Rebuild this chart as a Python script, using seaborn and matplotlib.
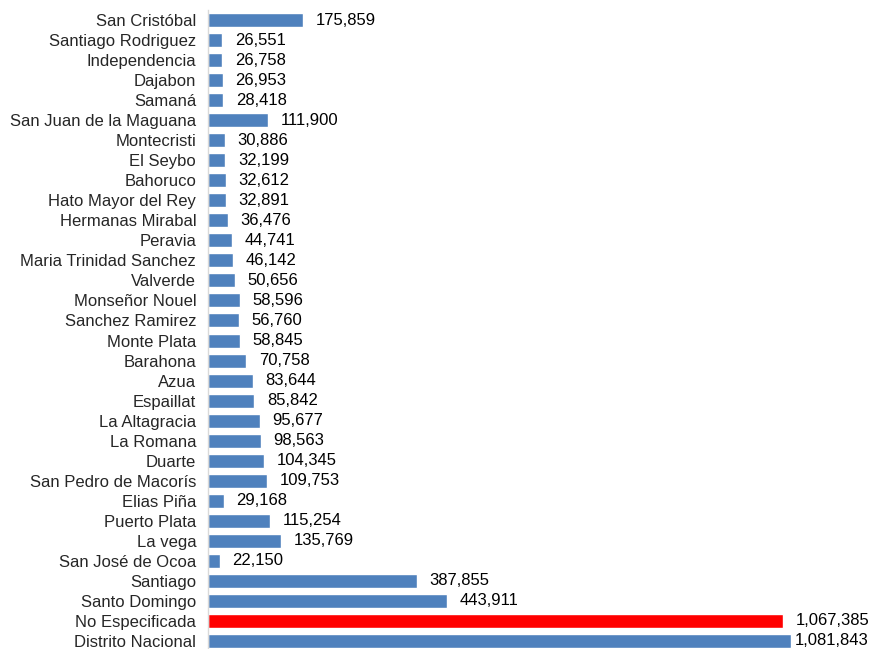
import matplotlib
matplotlib.use("Agg")
import matplotlib.pyplot as plt
import seaborn as sns
import pandas as pd

provinces = [
    "San Cristóbal", "Santiago Rodriguez", "Independencia", "Dajabon", "Samaná",
    "San Juan de la Maguana", "Montecristi", "El Seybo", "Bahoruco",
    "Hato Mayor del Rey", "Hermanas Mirabal", "Peravia", "Maria Trinidad Sanchez",
    "Valverde", "Monseñor Nouel", "Sanchez Ramirez", "Monte Plata", "Barahona",
    "Azua", "Espaillat", "La Altagracia", "La Romana", "Duarte",
    "San Pedro de Macorís", "Elias Piña", "Puerto Plata", "La vega",
    "San José de Ocoa", "Santiago", "Santo Domingo", "No Especificada",
    "Distrito Nacional",
]
values = [
    175859, 26551, 26758, 26953, 28418, 111900, 30886, 32199, 32612, 32891,
    36476, 44741, 46142, 50656, 58596, 56760, 58845, 70758, 83644, 85842,
    95677, 98563, 104345, 109753, 29168, 115254, 135769, 22150, 387855,
    443911, 1067385, 1081843,
]
highlight = "No Especificada"

df = pd.DataFrame({"provincia": provinces, "total": values})
colors = {p: ("#FF0000" if p == highlight else "#4F81BD") for p in provinces}

sns.set_style("white")
plt.rcParams["font.family"] = ["Liberation Sans", "DejaVu Sans"]

fig = plt.figure(figsize=(8.73, 6.49), dpi=100)
ax = fig.add_axes([208 / 873, -2 / 649, 1 - 208 / 873, 1 - 8 / 649])

sns.barplot(data=df, x="total", y="provincia", hue="provincia", palette=colors,
            legend=False, width=0.7, orient="h", ax=ax, saturation=1)

# last bar label sits closer to the bar so it fits in the figure
for cont in ax.containers:
    last = cont.patches[0].get_y() > len(provinces) - 1.5
    ax.bar_label(cont, fmt="{:,.0f}", padding=3 if last else 9,
                 fontsize=12, color="black")

ax.set_xlim(0, 1081843 * 665 / 583)
ax.set_xlabel("")
ax.set_ylabel("")
ax.set_xticks([])
ax.tick_params(axis="y", length=0, labelsize=12, pad=8.5)
for s in ["top", "right", "bottom"]:
    ax.spines[s].set_visible(False)
ax.spines["left"].set_color("#D9D9D9")
ax.spines["left"].set_linewidth(1)

fig.savefig("out.png", dpi=100)
